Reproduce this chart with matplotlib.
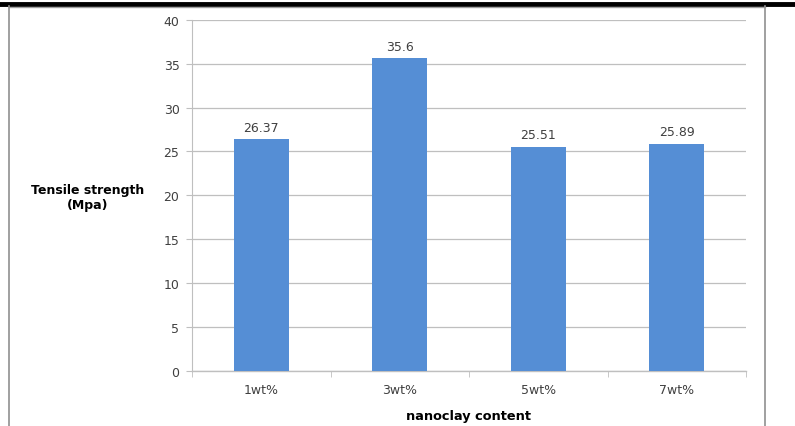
import matplotlib
matplotlib.use("Agg")
import matplotlib.pyplot as plt
from matplotlib.lines import Line2D

# data
categories = ["1wt%", "3wt%", "5wt%", "7wt%"]
strength = [26.37, 35.6, 25.51, 25.89]
value_labels = ["26.37", "35.6", "25.51", "25.89"]
yticks = [0, 5, 10, 15, 20, 25, 30, 35, 40]

bar_color = "#558ED5"
grid_color = "#BFBFBF"
text_color = "#404040"

plt.rcParams["font.family"] = ["DejaVu Sans"]

W, H = 795, 427
fig = plt.figure(figsize=(W / 100, H / 100), dpi=100)
ax = fig.add_axes([192 / W, 1 - 372 / H, (746 - 192) / W, (372 - 20.7) / H])

x = range(len(categories))
bars = ax.bar(x, strength, width=0.4, color=bar_color, zorder=3)

for rect, lab in zip(bars, value_labels):
    ax.annotate(lab, (rect.get_x() + rect.get_width() / 2, rect.get_height()),
                xytext=(0, 4), textcoords="offset points",
                ha="center", va="bottom", fontsize=9, color=text_color)

ax.set_xlim(-0.5, len(categories) - 0.5)
ax.set_ylim(0, 40)
ax.set_yticks(yticks)
ax.set_yticklabels([str(t) for t in yticks], fontsize=9, color=text_color)
ax.yaxis.grid(True, color=grid_color, linewidth=0.9, zorder=0)

# category labels at centres, tick marks at category boundaries
ax.set_xticks(list(x))
ax.set_xticklabels(categories, fontsize=9, color=text_color)
ax.tick_params(axis="x", length=0, pad=9)
ax.set_xticks([i - 0.5 for i in range(len(categories) + 1)], minor=True)
ax.tick_params(axis="x", which="minor", length=4, color=grid_color, direction="out")
ax.tick_params(axis="y", length=4, color=grid_color, pad=5)

for side in ["top", "right"]:
    ax.spines[side].set_visible(False)
ax.spines["left"].set_color(grid_color)
ax.spines["bottom"].set_color(grid_color)
ax.spines["bottom"].set_linewidth(1.0)

ax.set_xlabel("nanoclay content", fontsize=9.3, fontweight="bold", labelpad=9)
fig.text(88 / W, 1 - 198 / H, "Tensile strength\n(Mpa)", ha="center", va="center",
         fontsize=9, fontweight="bold", linespacing=1.15)

# page frame around the chart
fig.add_artist(Line2D([0, 1], [1 - 5 / H, 1 - 5 / H], transform=fig.transFigure,
                      color="black", linewidth=3.5))
fig.add_artist(Line2D([9 / W, 765 / W], [1 - 7.5 / H, 1 - 7.5 / H],
                      transform=fig.transFigure, color="#A0A0A0", linewidth=1))
for xv in [9 / W, 765 / W]:
    fig.add_artist(Line2D([xv, xv], [0, 1 - 7 / H], transform=fig.transFigure,
                          color="#909090", linewidth=1.2))

fig.savefig("out.png", dpi=100)
